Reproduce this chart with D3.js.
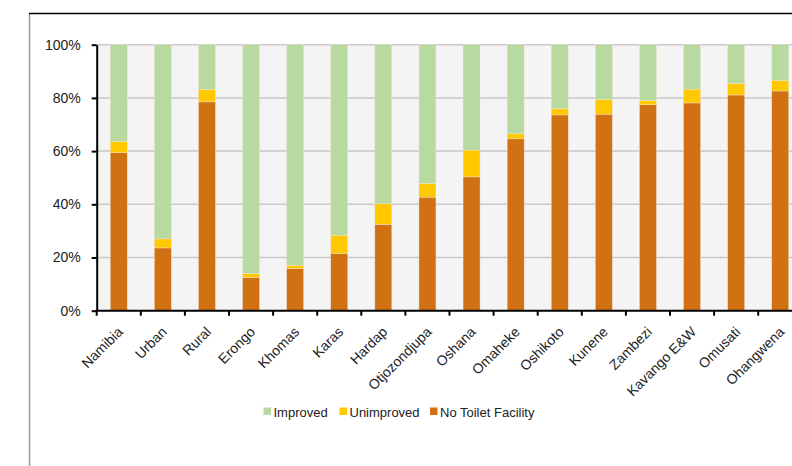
<!DOCTYPE html>
<html><head><meta charset="utf-8">
<script src="https://cdn.jsdelivr.net/npm/d3@7"></script>
<style>html,body{margin:0;padding:0;background:#fff;overflow:hidden}</style>
</head><body>
<svg id="c" width="792" height="466"></svg>
<script>
const categories = ["Namibia","Urban","Rural","Erongo","Khomas","Karas","Hardap","Otjozondjupa","Oshana","Omaheke","Oshikoto","Kunene","Zambezi","Kavango E&W","Omusati","Ohangwena"];
const noToilet   = [59.4,23.6,78.5,12.5,15.9,21.6,32.5,42.7,50.3,64.6,73.6,73.9,77.4,78.1,81.1,82.6];
const unimproved = [4.2,3.4,4.7,1.5,1.2,6.8,7.8,5.2,10.1,1.9,2.4,5.5,1.5,5.2,4.4,4.0];
const improved   = noToilet.map((v,i)=>+(100 - v - unimproved[i]).toFixed(1));
const yTicks = [0,20,40,60,80,100];
const seriesNames = ["Improved","Unimproved","No Toilet Facility"];
const colors = {"Improved":"#b8d99f","Unimproved":"#ffc800","No Toilet Facility":"#d07114"};

const svg = d3.select("#c");
const L = 96.7, R = 802.3, T = 44.7, B = 310.7;
const x = d3.scaleBand().domain(categories).range([L,R]).padding(0);
const y = d3.scaleLinear().domain([0,100]).range([B,T]);

// frame
svg.append("line").attr("x1",29.5).attr("x2",29.5).attr("y1",13).attr("y2",466).attr("stroke","#9a9a9a").attr("stroke-width",1.5);
svg.append("line").attr("x1",29).attr("x2",792).attr("y1",13.5).attr("y2",13.5).attr("stroke","#000").attr("stroke-width",1.3);

// plot background
svg.append("rect").attr("x",L).attr("y",T).attr("width",R-L).attr("height",B-T).attr("fill","#f4f4f4");
// gridlines
svg.append("g").selectAll("line").data(yTicks.filter(d=>d>0)).join("line")
  .attr("x1",L).attr("x2",R).attr("y1",d=>y(d)).attr("y2",d=>y(d))
  .attr("stroke","#c9c9c9").attr("stroke-width",1.5);

// stacked data
const rows = categories.map((c,i)=>({cat:c,"No Toilet Facility":noToilet[i],"Unimproved":unimproved[i],"Improved":improved[i]}));
const stack = d3.stack().keys(["No Toilet Facility","Unimproved","Improved"])(rows);
const bw = x.bandwidth()*0.385;
svg.append("g").selectAll("g").data(stack).join("g").attr("fill",d=>colors[d.key])
  .selectAll("rect").data(d=>d).join("rect")
  .attr("x",d=>x(d.data.cat)+(x.bandwidth()-bw)/2)
  .attr("width",bw)
  .attr("y",d=>y(d[1]))
  .attr("height",d=>y(d[0])-y(d[1]))
  .attr("stroke","#f2e6d8").attr("stroke-width",0.4);

// y axis
const ya = svg.append("g").attr("transform",`translate(${L},0)`)
  .call(d3.axisLeft(y).tickValues(yTicks).tickFormat(d=>d+"%").tickSize(5).tickPadding(11).tickSizeOuter(0));
ya.select(".domain").attr("stroke","#000").attr("stroke-width",2);
ya.selectAll(".tick line").attr("stroke","#000").attr("stroke-width",2);
ya.selectAll("text").attr("font-family","Liberation Sans, Arial, sans-serif").attr("font-size",14).attr("fill","#222");

// x axis line and boundary ticks
svg.append("line").attr("x1",L-1).attr("x2",R).attr("y1",B).attr("y2",B).attr("stroke","#000").attr("stroke-width",2);
const bounds = categories.map(c=>x(c)).concat([x(categories[categories.length-1])+x.step()]);
svg.append("g").selectAll("line").data(bounds).join("line")
  .attr("x1",d=>d).attr("x2",d=>d).attr("y1",B).attr("y2",B+5).attr("stroke","#000").attr("stroke-width",2);

// x labels
svg.append("g").selectAll("text").data(categories).join("text")
  .attr("transform",d=>`translate(${x(d)+x.bandwidth()/2+5},${B+22}) rotate(-45)`)
  .attr("text-anchor","end")
  .attr("font-family","Liberation Sans, Arial, sans-serif").attr("font-size",14).attr("fill","#222")
  .text(d=>d);

// legend
const legX = [263.5, 339.5, 430];
const lg = svg.append("g").selectAll("g").data(seriesNames).join("g")
  .attr("transform",(d,i)=>`translate(${legX[i]},407.5)`);
lg.append("rect").attr("width",7.5).attr("height",7.5).attr("fill",d=>colors[d]);
lg.append("text").attr("x",10).attr("y",9.5)
  .attr("font-family","Liberation Sans, Arial, sans-serif").attr("font-size",13).attr("fill","#222")
  .text(d=>d);
</script>
</body></html>
